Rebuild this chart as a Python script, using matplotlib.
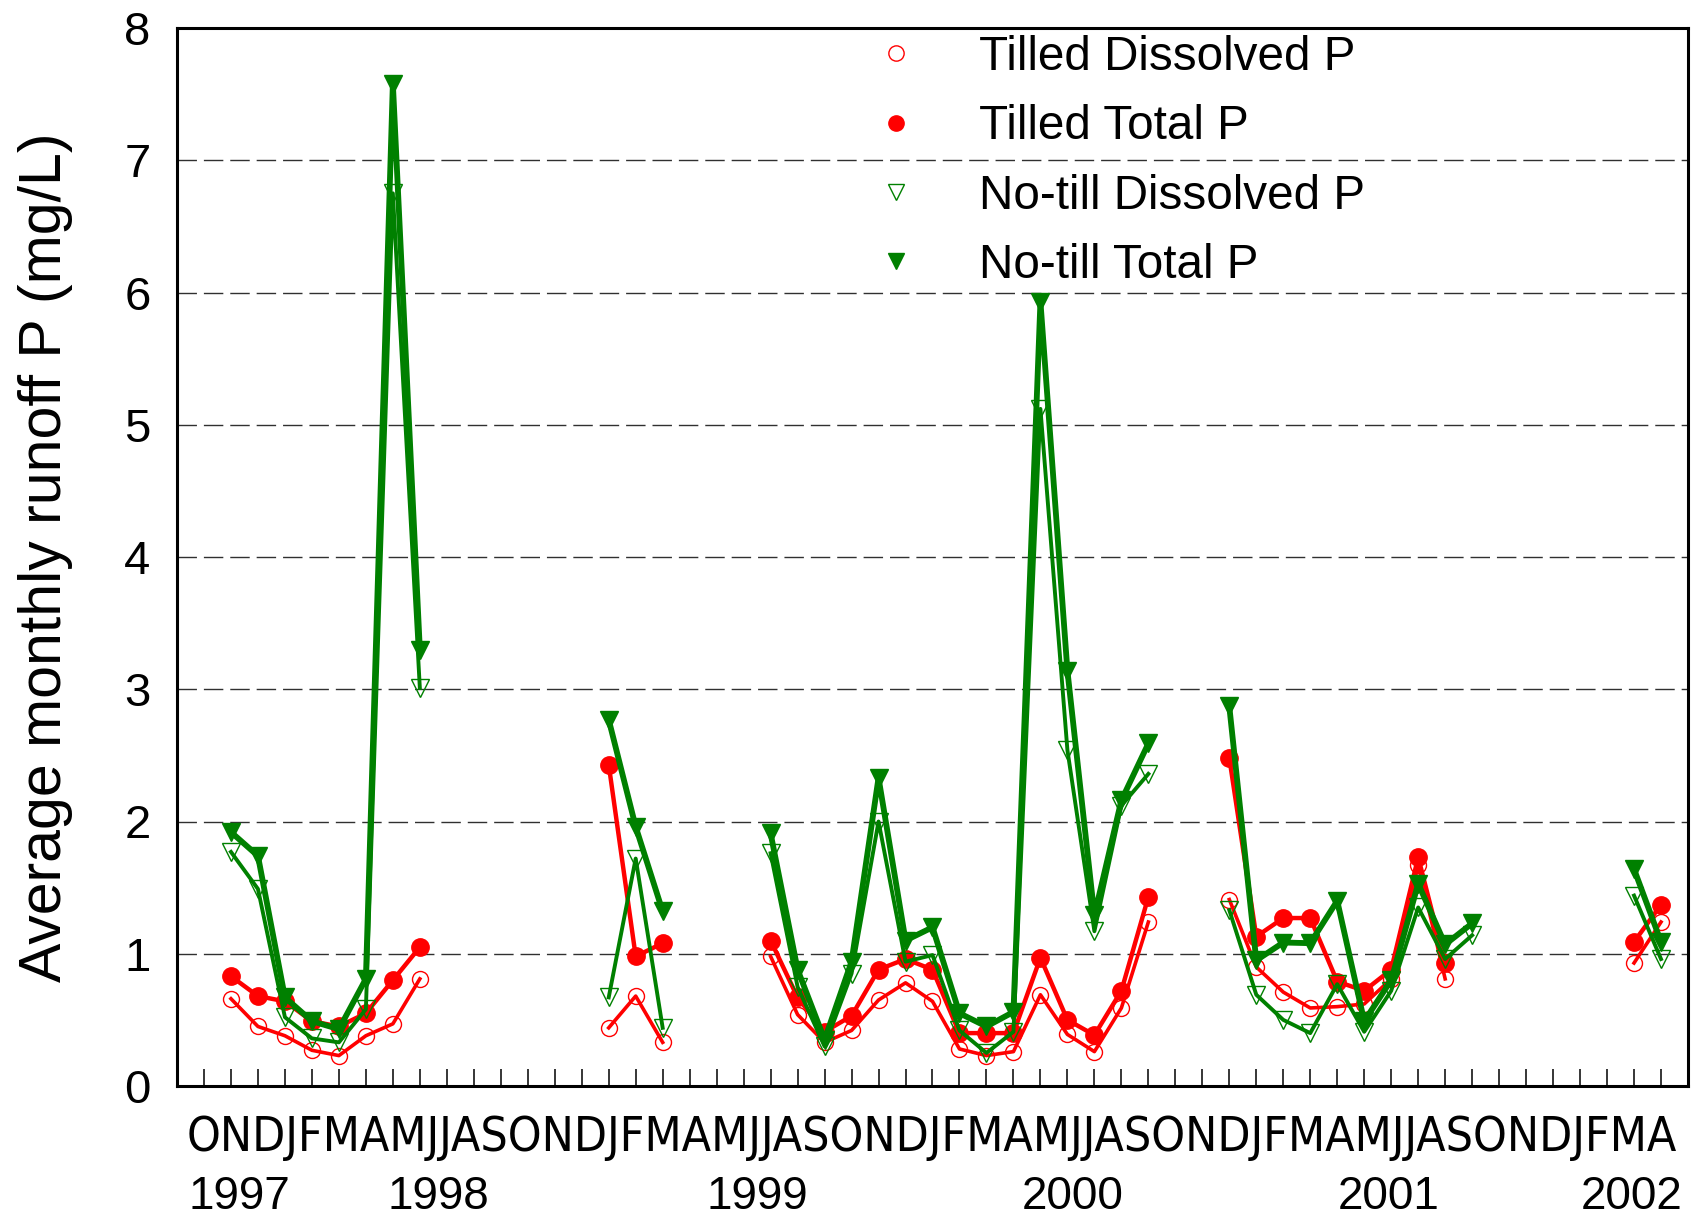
import numpy as np
import matplotlib
matplotlib.use('Agg')
import matplotlib.pyplot as plt
from matplotlib.lines import Line2D
import matplotlib.transforms as mtransforms
from matplotlib import font_manager as fm

plt.rcParams['font.family'] = ['Liberation Sans', 'DejaVu Sans']

N = None
# Months from Oct 1997 (1) to Apr 2002 (55)
month_letters = list("OND" + "JFMAMJJASOND" * 4 + "JFMA")
year_labels = ['1997', '1998', '1999', '2000', '2001', '2002']

tilled_dissolved = [N, 0.66, 0.45, 0.38, 0.27, 0.23, 0.38, 0.47, 0.81,
                    N, N, N, N, N, N,
                    0.44, 0.68, 0.33,
                    N, N, N,
                    0.98, 0.54, 0.33, 0.42, 0.65, 0.78, 0.64, 0.28, 0.23, 0.26,
                    0.69, 0.39, 0.26, 0.59, 1.24,
                    N, N,
                    1.41, 0.90, 0.71, 0.59, 0.60, 0.62, 0.81, 1.67, 0.81,
                    N, N, N, N, N, N,
                    0.93, 1.24]
tilled_total = [N, 0.83, 0.68, 0.64, 0.49, 0.45, 0.55, 0.80, 1.05,
                N, N, N, N, N, N,
                2.43, 0.98, 1.08,
                N, N, N,
                1.10, 0.67, 0.41, 0.53, 0.88, 0.96, 0.88, 0.40, 0.40, 0.40,
                0.97, 0.50, 0.385, 0.72, 1.43,
                N, N,
                2.48, 1.13, 1.27, 1.27, 0.79, 0.72, 0.88, 1.73, 0.93,
                N, N, N, N, N, N,
                1.09, 1.37]
notill_dissolved = [N, 1.77, 1.49, 0.52, 0.36, 0.33, 0.58, 6.75, 3.01,
                    N, N, N, N, N, N,
                    0.67, 1.72, 0.44,
                    N, N, N,
                    1.76, 0.75, 0.30, 0.85, 2.00, 0.94, 0.99, 0.42, 0.25, 0.41,
                    5.12, 2.54, 1.17, 2.12, 2.36,
                    N, N,
                    1.33, 0.69, 0.50, 0.40, 0.77, 0.41, 0.72, 1.35, 0.96, 1.14,
                    N, N, N, N, N,
                    1.44, 0.96]
notill_total = [N, 1.92, 1.74, 0.67, 0.49, 0.43, 0.81, 7.58, 3.30,
                N, N, N, N, N, N,
                2.77, 1.96, 1.32,
                N, N, N,
                1.91, 0.88, 0.35, 0.94, 2.33, 1.10, 1.20, 0.55, 0.45, 0.56,
                5.93, 3.14, 1.29, 2.16, 2.59,
                N, N,
                2.87, 0.95, 1.085, 1.08, 1.40, 0.49, 0.80, 1.53, 1.07, 1.23,
                N, N, N, N, N,
                1.64, 1.09]

series_labels = ['Tilled Dissolved P', 'Tilled Total P',
                 'No-till Dissolved P', 'No-till Total P']

RED = '#FF0000'
GREEN = '#008000'

x = np.arange(1, len(month_letters) + 1)
td = np.array(tilled_dissolved, dtype=float)
tt = np.array(tilled_total, dtype=float)
nd = np.array(notill_dissolved, dtype=float)
nt = np.array(notill_total, dtype=float)

W, H = 1691, 1225
fig = plt.figure(figsize=(W / 100, H / 100), dpi=100)
L, R, T, B = 177, 1688, 28, 1086
ax = fig.add_axes([L / W, 1 - B / H, (R - L) / W, (B - T) / H])

ax.plot(x, td, color=RED, lw=2.6, marker='o', ms=11.5, mfc='none',
        mec=RED, mew=1.0, zorder=3)
ax.plot(x, tt, color=RED, lw=3.2, marker='o', ms=12.5, mfc=RED,
        mec=RED, zorder=4)
ax.plot(x, nd, color=GREEN, lw=2.8, marker='v', ms=13, mfc='none',
        mec=GREEN, mew=1.0, zorder=5)
ax.plot(x, nt, color=GREEN, lw=4.2, marker='v', ms=13, mfc=GREEN,
        mec=GREEN, zorder=6)

ax.set_xlim(0, len(month_letters) + 1)
ax.set_ylim(0, 8)
ax.set_xticks(x)
ax.tick_params(axis='x', direction='in', length=12, width=1.1,
               labelbottom=False)
ax.set_yticks(range(0, 9))
ax.tick_params(axis='y', length=0, pad=19, labelsize=34)
ax.yaxis.grid(True, linestyle=(0, (14, 5)), color='#303030', lw=1.0)
ax.set_axisbelow(True)
for sp in ax.spines.values():
    sp.set_linewidth(2.2)

ax.set_ylabel('Average monthly runoff P (mg/L)', fontsize=42.5)
ax.yaxis.set_label_coords(-0.069, 0.5)


def _wt(f):
    w = f.weight
    if isinstance(w, str):
        return {'normal': 400, 'regular': 400, 'book': 400, 'medium': 500,
                'light': 300, 'bold': 700}.get(w.lower(), 400)
    return int(w)


def find_condensed_font():
    """Regular-weight narrow/condensed sans face, preferring Arial-like ones."""
    prefs = ['liberationsansnarrow', 'arialnarrow', 'notosans', 'dejavusans',
             'roboto', 'opensans', 'lato', 'inter']
    cands = []
    for f in fm.fontManager.ttflist:
        n = f.name.lower().replace(' ', '')
        fn = f.fname.lower().replace('-', '').replace('_', '').replace(' ', '')
        if 'mono' in n or 'cjk' in n or 'serif' in n or 'display' in fn:
            continue
        if f.style != 'normal' or _wt(f) != 400:
            continue
        if 'bold' in fn or 'light' in fn or 'italic' in fn or 'medium' in fn \
                or 'thin' in fn or 'black' in fn or 'semi' in fn:
            continue
        if 'extra' in fn or 'ultra' in fn:
            continue
        if ('narrow' in fn or 'condensed' in fn or 'narrow' in n
                or 'condensed' in n or f.stretch == 'condensed'):
            rank = len(prefs)
            for i, p in enumerate(prefs):
                if n.startswith(p) or p in fn:
                    rank = i
                    break
            cands.append((rank, f.fname))
    if cands:
        cands.sort()
        return cands[0][1]
    return None


trans = mtransforms.blended_transform_factory(ax.transData, ax.transAxes)
month_text = ''.join(month_letters)
cpath = find_condensed_font()
if cpath is not None:
    fp = fm.FontProperties(fname=cpath)
else:
    fp = fm.FontProperties(family='Liberation Sans')
mt = ax.text(0.34, -0.049, month_text, ha='left', va='center',
             fontproperties=fp, fontsize=36, transform=trans)
fig.canvas.draw()
target_w = 1491.0
w = mt.get_window_extent().width
mt.set_fontsize(min(38.0, 36.0 * target_w / w))

year_x = [2.3, 9.67, 21.5, 33.2, 44.9, 53.9]
for yx, yl in zip(year_x, year_labels):
    ax.text(yx, -0.105, yl, ha='center', va='center', fontsize=33,
            transform=trans)

handles = [
    Line2D([], [], ls='none', marker='o', ms=11, mfc='none', mec=RED, mew=1.0),
    Line2D([], [], ls='none', marker='o', ms=11, mfc=RED, mec=RED),
    Line2D([], [], ls='none', marker='v', ms=12, mfc='none', mec=GREEN, mew=1.0),
    Line2D([], [], ls='none', marker='v', ms=12, mfc=GREEN, mec=GREEN),
]
ax.legend(handles, series_labels, loc='upper left', bbox_to_anchor=(0.46, 0.9934),
          frameon=False, fontsize=34.3, handlelength=1.0, handletextpad=1.24,
          labelspacing=0.51, borderpad=0, borderaxespad=0)

fig.savefig('out.png', dpi=100)
